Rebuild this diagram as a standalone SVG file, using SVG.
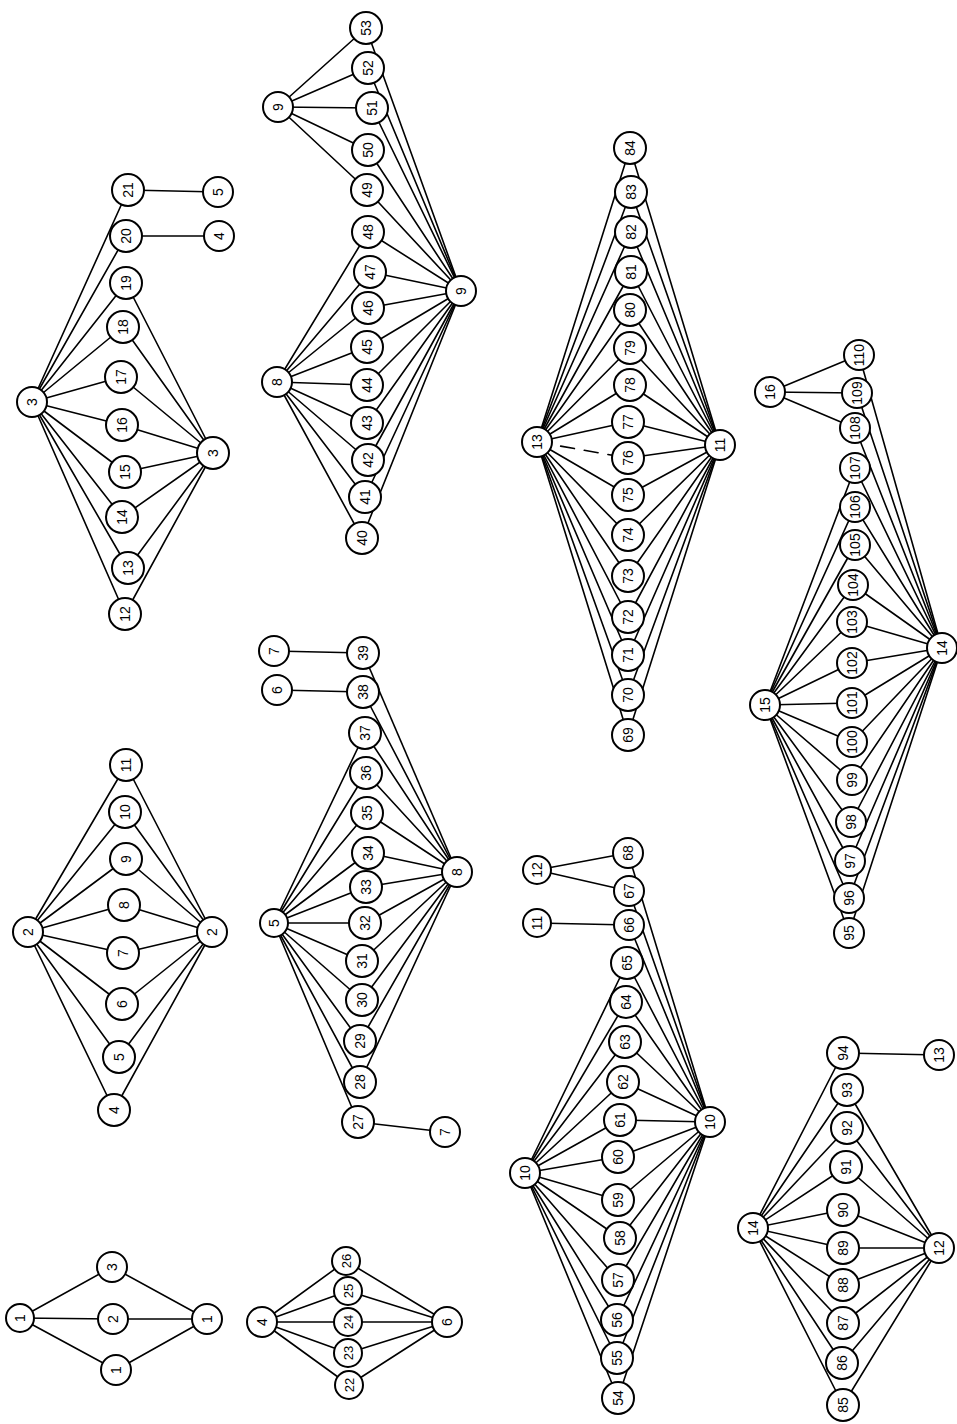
<svg xmlns="http://www.w3.org/2000/svg" width="957" height="1424" viewBox="0 0 957 1424">
<style>
.e{stroke:#000;stroke-width:1.6;fill:none;stroke-linecap:round}
.d{stroke-dasharray:14 10}
circle{fill:#fff;stroke:#000;stroke-width:2}
text{font-family:"Liberation Sans",Arial,sans-serif;font-size:14px;text-anchor:middle;dominant-baseline:central;fill:#000}
.sm{font-size:13px}
</style>
<rect width="957" height="1424" fill="#fff"/>
<g id="connectors">
<!-- A -->
<line class="e" x1="20" y1="1318" x2="112" y2="1267"/><line class="e" x1="20" y1="1318" x2="113" y2="1319"/><line class="e" x1="20" y1="1318" x2="116" y2="1370"/>
<line class="e" x1="207" y1="1319" x2="112" y2="1267"/><line class="e" x1="207" y1="1319" x2="113" y2="1319"/><line class="e" x1="207" y1="1319" x2="116" y2="1370"/>
<!-- B -->
<line class="e" x1="262" y1="1322" x2="346" y2="1261"/><line class="e" x1="262" y1="1322" x2="348" y2="1291"/><line class="e" x1="262" y1="1322" x2="348" y2="1322"/><line class="e" x1="262" y1="1322" x2="348" y2="1353"/><line class="e" x1="262" y1="1322" x2="349" y2="1385"/>
<line class="e" x1="447" y1="1322" x2="346" y2="1261"/><line class="e" x1="447" y1="1322" x2="348" y2="1291"/><line class="e" x1="447" y1="1322" x2="348" y2="1322"/><line class="e" x1="447" y1="1322" x2="348" y2="1353"/><line class="e" x1="447" y1="1322" x2="349" y2="1385"/>
<!-- C -->
<line class="e" x1="28" y1="932" x2="114" y2="1110"/><line class="e" x1="28" y1="932" x2="119" y2="1057"/><line class="e" x1="28" y1="932" x2="122" y2="1004"/><line class="e" x1="28" y1="932" x2="123" y2="953"/><line class="e" x1="28" y1="932" x2="124" y2="905"/><line class="e" x1="28" y1="932" x2="126" y2="859"/><line class="e" x1="28" y1="932" x2="125" y2="812"/><line class="e" x1="28" y1="932" x2="126" y2="765"/>
<line class="e" x1="212" y1="932" x2="114" y2="1110"/><line class="e" x1="212" y1="932" x2="119" y2="1057"/><line class="e" x1="212" y1="932" x2="122" y2="1004"/><line class="e" x1="212" y1="932" x2="123" y2="953"/><line class="e" x1="212" y1="932" x2="124" y2="905"/><line class="e" x1="212" y1="932" x2="126" y2="859"/><line class="e" x1="212" y1="932" x2="125" y2="812"/><line class="e" x1="212" y1="932" x2="126" y2="765"/>
<!-- D -->
<line class="e" x1="32" y1="402" x2="125" y2="614"/><line class="e" x1="32" y1="402" x2="128" y2="568"/><line class="e" x1="32" y1="402" x2="122" y2="517"/><line class="e" x1="32" y1="402" x2="125" y2="472"/><line class="e" x1="32" y1="402" x2="122" y2="425"/><line class="e" x1="32" y1="402" x2="121" y2="377"/><line class="e" x1="32" y1="402" x2="123" y2="327"/><line class="e" x1="32" y1="402" x2="126" y2="283"/><line class="e" x1="32" y1="402" x2="126" y2="236"/><line class="e" x1="32" y1="402" x2="128" y2="190"/>
<line class="e" x1="213" y1="453" x2="125" y2="614"/><line class="e" x1="213" y1="453" x2="128" y2="568"/><line class="e" x1="213" y1="453" x2="122" y2="517"/><line class="e" x1="213" y1="453" x2="125" y2="472"/><line class="e" x1="213" y1="453" x2="122" y2="425"/><line class="e" x1="213" y1="453" x2="121" y2="377"/><line class="e" x1="213" y1="453" x2="123" y2="327"/><line class="e" x1="213" y1="453" x2="126" y2="283"/>
<line class="e" x1="126" y1="236" x2="219" y2="236"/><line class="e" x1="128" y1="190" x2="218" y2="192"/>
<!-- E -->
<line class="e" x1="274" y1="923" x2="358" y2="1122"/><line class="e" x1="274" y1="923" x2="360" y2="1082"/><line class="e" x1="274" y1="923" x2="360" y2="1041"/><line class="e" x1="274" y1="923" x2="362" y2="1000"/><line class="e" x1="274" y1="923" x2="362" y2="961"/><line class="e" x1="274" y1="923" x2="365" y2="923"/><line class="e" x1="274" y1="923" x2="366" y2="887"/><line class="e" x1="274" y1="923" x2="368" y2="853"/><line class="e" x1="274" y1="923" x2="367" y2="813"/><line class="e" x1="274" y1="923" x2="366" y2="773"/><line class="e" x1="274" y1="923" x2="365" y2="733"/>
<line class="e" x1="457" y1="872" x2="360" y2="1082"/><line class="e" x1="457" y1="872" x2="360" y2="1041"/><line class="e" x1="457" y1="872" x2="362" y2="1000"/><line class="e" x1="457" y1="872" x2="362" y2="961"/><line class="e" x1="457" y1="872" x2="365" y2="923"/><line class="e" x1="457" y1="872" x2="366" y2="887"/><line class="e" x1="457" y1="872" x2="368" y2="853"/><line class="e" x1="457" y1="872" x2="367" y2="813"/><line class="e" x1="457" y1="872" x2="366" y2="773"/><line class="e" x1="457" y1="872" x2="365" y2="733"/><line class="e" x1="457" y1="872" x2="363" y2="692"/><line class="e" x1="457" y1="872" x2="363" y2="653"/>
<line class="e" x1="363" y1="692" x2="277" y2="690"/><line class="e" x1="363" y1="653" x2="274" y2="651"/><line class="e" x1="358" y1="1122" x2="445" y2="1132"/>
<!-- F -->
<line class="e" x1="277" y1="382" x2="362" y2="538"/><line class="e" x1="277" y1="382" x2="365" y2="497"/><line class="e" x1="277" y1="382" x2="368" y2="460"/><line class="e" x1="277" y1="382" x2="367" y2="423"/><line class="e" x1="277" y1="382" x2="367" y2="385"/><line class="e" x1="277" y1="382" x2="367" y2="347"/><line class="e" x1="277" y1="382" x2="368" y2="308"/><line class="e" x1="277" y1="382" x2="370" y2="272"/><line class="e" x1="277" y1="382" x2="368" y2="232"/>
<line class="e" x1="461" y1="291" x2="362" y2="538"/><line class="e" x1="461" y1="291" x2="365" y2="497"/><line class="e" x1="461" y1="291" x2="368" y2="460"/><line class="e" x1="461" y1="291" x2="367" y2="423"/><line class="e" x1="461" y1="291" x2="367" y2="385"/><line class="e" x1="461" y1="291" x2="367" y2="347"/><line class="e" x1="461" y1="291" x2="368" y2="308"/><line class="e" x1="461" y1="291" x2="370" y2="272"/><line class="e" x1="461" y1="291" x2="368" y2="232"/><line class="e" x1="461" y1="291" x2="367" y2="190"/><line class="e" x1="461" y1="291" x2="368" y2="150"/><line class="e" x1="461" y1="291" x2="372" y2="108"/><line class="e" x1="461" y1="291" x2="368" y2="68"/><line class="e" x1="461" y1="291" x2="366" y2="28"/>
<line class="e" x1="278" y1="107" x2="367" y2="190"/><line class="e" x1="278" y1="107" x2="368" y2="150"/><line class="e" x1="278" y1="107" x2="372" y2="108"/><line class="e" x1="278" y1="107" x2="368" y2="68"/><line class="e" x1="278" y1="107" x2="366" y2="28"/>
<!-- G -->
<line class="e" x1="537" y1="442" x2="628" y2="735"/><line class="e" x1="537" y1="442" x2="628" y2="695"/><line class="e" x1="537" y1="442" x2="628" y2="655"/><line class="e" x1="537" y1="442" x2="628" y2="617"/><line class="e" x1="537" y1="442" x2="628" y2="576"/><line class="e" x1="537" y1="442" x2="628" y2="535"/><line class="e" x1="537" y1="442" x2="628" y2="495"/><line class="e d" x1="537" y1="442" x2="628" y2="458"/><line class="e" x1="537" y1="442" x2="628" y2="422"/><line class="e" x1="537" y1="442" x2="630" y2="385"/><line class="e" x1="537" y1="442" x2="630" y2="348"/><line class="e" x1="537" y1="442" x2="630" y2="310"/><line class="e" x1="537" y1="442" x2="631" y2="272"/><line class="e" x1="537" y1="442" x2="631" y2="232"/><line class="e" x1="537" y1="442" x2="631" y2="192"/><line class="e" x1="537" y1="442" x2="630" y2="148"/>
<line class="e" x1="720" y1="445" x2="628" y2="735"/><line class="e" x1="720" y1="445" x2="628" y2="695"/><line class="e" x1="720" y1="445" x2="628" y2="655"/><line class="e" x1="720" y1="445" x2="628" y2="617"/><line class="e" x1="720" y1="445" x2="628" y2="576"/><line class="e" x1="720" y1="445" x2="628" y2="535"/><line class="e" x1="720" y1="445" x2="628" y2="495"/><line class="e" x1="720" y1="445" x2="628" y2="458"/><line class="e" x1="720" y1="445" x2="628" y2="422"/><line class="e" x1="720" y1="445" x2="630" y2="385"/><line class="e" x1="720" y1="445" x2="630" y2="348"/><line class="e" x1="720" y1="445" x2="630" y2="310"/><line class="e" x1="720" y1="445" x2="631" y2="272"/><line class="e" x1="720" y1="445" x2="631" y2="232"/><line class="e" x1="720" y1="445" x2="631" y2="192"/><line class="e" x1="720" y1="445" x2="630" y2="148"/>
<!-- H -->
<line class="e" x1="525" y1="1173" x2="618" y2="1398"/><line class="e" x1="525" y1="1173" x2="617" y2="1358"/><line class="e" x1="525" y1="1173" x2="617" y2="1320"/><line class="e" x1="525" y1="1173" x2="618" y2="1280"/><line class="e" x1="525" y1="1173" x2="620" y2="1238"/><line class="e" x1="525" y1="1173" x2="618" y2="1200"/><line class="e" x1="525" y1="1173" x2="618" y2="1157"/><line class="e" x1="525" y1="1173" x2="620" y2="1120"/><line class="e" x1="525" y1="1173" x2="623" y2="1082"/><line class="e" x1="525" y1="1173" x2="625" y2="1042"/><line class="e" x1="525" y1="1173" x2="626" y2="1002"/><line class="e" x1="525" y1="1173" x2="627" y2="963"/>
<line class="e" x1="710" y1="1122" x2="618" y2="1398"/><line class="e" x1="710" y1="1122" x2="617" y2="1358"/><line class="e" x1="710" y1="1122" x2="617" y2="1320"/><line class="e" x1="710" y1="1122" x2="618" y2="1280"/><line class="e" x1="710" y1="1122" x2="620" y2="1238"/><line class="e" x1="710" y1="1122" x2="618" y2="1200"/><line class="e" x1="710" y1="1122" x2="618" y2="1157"/><line class="e" x1="710" y1="1122" x2="620" y2="1120"/><line class="e" x1="710" y1="1122" x2="623" y2="1082"/><line class="e" x1="710" y1="1122" x2="625" y2="1042"/><line class="e" x1="710" y1="1122" x2="626" y2="1002"/><line class="e" x1="710" y1="1122" x2="627" y2="963"/><line class="e" x1="710" y1="1122" x2="629" y2="925"/><line class="e" x1="710" y1="1122" x2="629" y2="891"/><line class="e" x1="710" y1="1122" x2="628" y2="853"/>
<line class="e" x1="537" y1="923" x2="629" y2="925"/><line class="e" x1="537" y1="870" x2="628" y2="853"/><line class="e" x1="537" y1="870" x2="629" y2="891"/>
<!-- I -->
<line class="e" x1="753" y1="1228" x2="843" y2="1405"/><line class="e" x1="753" y1="1228" x2="842" y2="1363"/><line class="e" x1="753" y1="1228" x2="843" y2="1323"/><line class="e" x1="753" y1="1228" x2="843" y2="1285"/><line class="e" x1="753" y1="1228" x2="843" y2="1248"/><line class="e" x1="753" y1="1228" x2="843" y2="1210"/><line class="e" x1="753" y1="1228" x2="846" y2="1167"/><line class="e" x1="753" y1="1228" x2="847" y2="1128"/><line class="e" x1="753" y1="1228" x2="847" y2="1090"/><line class="e" x1="753" y1="1228" x2="843" y2="1053"/>
<line class="e" x1="939" y1="1248" x2="843" y2="1405"/><line class="e" x1="939" y1="1248" x2="842" y2="1363"/><line class="e" x1="939" y1="1248" x2="843" y2="1323"/><line class="e" x1="939" y1="1248" x2="843" y2="1285"/><line class="e" x1="939" y1="1248" x2="843" y2="1248"/><line class="e" x1="939" y1="1248" x2="843" y2="1210"/><line class="e" x1="939" y1="1248" x2="846" y2="1167"/><line class="e" x1="939" y1="1248" x2="847" y2="1128"/><line class="e" x1="939" y1="1248" x2="847" y2="1090"/>
<line class="e" x1="843" y1="1053" x2="939" y2="1055"/>
<!-- J -->
<line class="e" x1="765" y1="705" x2="849" y2="933"/><line class="e" x1="765" y1="705" x2="849" y2="898"/><line class="e" x1="765" y1="705" x2="850" y2="861"/><line class="e" x1="765" y1="705" x2="851" y2="822"/><line class="e" x1="765" y1="705" x2="852" y2="780"/><line class="e" x1="765" y1="705" x2="852" y2="742"/><line class="e" x1="765" y1="705" x2="852" y2="703"/><line class="e" x1="765" y1="705" x2="852" y2="663"/><line class="e" x1="765" y1="705" x2="852" y2="622"/><line class="e" x1="765" y1="705" x2="853" y2="585"/><line class="e" x1="765" y1="705" x2="855" y2="545"/><line class="e" x1="765" y1="705" x2="855" y2="507"/><line class="e" x1="765" y1="705" x2="855" y2="468"/>
<line class="e" x1="942" y1="648" x2="849" y2="933"/><line class="e" x1="942" y1="648" x2="849" y2="898"/><line class="e" x1="942" y1="648" x2="850" y2="861"/><line class="e" x1="942" y1="648" x2="851" y2="822"/><line class="e" x1="942" y1="648" x2="852" y2="780"/><line class="e" x1="942" y1="648" x2="852" y2="742"/><line class="e" x1="942" y1="648" x2="852" y2="703"/><line class="e" x1="942" y1="648" x2="852" y2="663"/><line class="e" x1="942" y1="648" x2="852" y2="622"/><line class="e" x1="942" y1="648" x2="853" y2="585"/><line class="e" x1="942" y1="648" x2="855" y2="545"/><line class="e" x1="942" y1="648" x2="855" y2="507"/><line class="e" x1="942" y1="648" x2="855" y2="468"/><line class="e" x1="942" y1="648" x2="855" y2="428"/><line class="e" x1="942" y1="648" x2="857" y2="393"/><line class="e" x1="942" y1="648" x2="859" y2="355"/>
<line class="e" x1="770" y1="392" x2="855" y2="428"/><line class="e" x1="770" y1="392" x2="857" y2="393"/><line class="e" x1="770" y1="392" x2="859" y2="355"/>
</g>
<!-- Nodes: group A -->
<g id="a_h1L"><circle cx="20" cy="1318" r="14"/><text x="20" y="1318" transform="rotate(-90 20 1318)">1</text></g>
<g id="a_n3"><circle cx="112" cy="1267" r="15"/><text x="112" y="1267" transform="rotate(-90 112 1267)">3</text></g>
<g id="a_n2"><circle cx="113" cy="1319" r="15"/><text x="113" y="1319" transform="rotate(-90 113 1319)">2</text></g>
<g id="a_n1"><circle cx="116" cy="1370" r="15"/><text x="116" y="1370" transform="rotate(-90 116 1370)">1</text></g>
<g id="a_h1R"><circle cx="207" cy="1319" r="15"/><text x="207" y="1319" transform="rotate(-90 207 1319)">1</text></g>
<!-- group B -->
<g id="b_h4"><circle cx="262" cy="1322" r="15"/><text x="262" y="1322" transform="rotate(-90 262 1322)">4</text></g>
<g id="n26"><circle cx="346" cy="1261" r="14"/><text class="sm" x="346" y="1261" transform="rotate(-90 346 1261)">26</text></g>
<g id="n25"><circle cx="348" cy="1291" r="14"/><text class="sm" x="348" y="1291" transform="rotate(-90 348 1291)">25</text></g>
<g id="n24"><circle cx="348" cy="1322" r="14"/><text class="sm" x="348" y="1322" transform="rotate(-90 348 1322)">24</text></g>
<g id="n23"><circle cx="348" cy="1353" r="14"/><text class="sm" x="348" y="1353" transform="rotate(-90 348 1353)">23</text></g>
<g id="n22"><circle cx="349" cy="1385" r="14"/><text class="sm" x="349" y="1385" transform="rotate(-90 349 1385)">22</text></g>
<g id="b_h6"><circle cx="447" cy="1322" r="15"/><text x="447" y="1322" transform="rotate(-90 447 1322)">6</text></g>
<!-- group C -->
<g id="c_h2L"><circle cx="28" cy="932" r="15"/><text x="28" y="932" transform="rotate(-90 28 932)">2</text></g>
<g id="n4"><circle cx="114" cy="1110" r="16"/><text x="114" y="1110" transform="rotate(-90 114 1110)">4</text></g>
<g id="n5"><circle cx="119" cy="1057" r="16"/><text x="119" y="1057" transform="rotate(-90 119 1057)">5</text></g>
<g id="n6"><circle cx="122" cy="1004" r="16"/><text x="122" y="1004" transform="rotate(-90 122 1004)">6</text></g>
<g id="n7"><circle cx="123" cy="953" r="16"/><text x="123" y="953" transform="rotate(-90 123 953)">7</text></g>
<g id="n8"><circle cx="124" cy="905" r="16"/><text x="124" y="905" transform="rotate(-90 124 905)">8</text></g>
<g id="n9"><circle cx="126" cy="859" r="16"/><text x="126" y="859" transform="rotate(-90 126 859)">9</text></g>
<g id="n10"><circle cx="125" cy="812" r="16"/><text x="125" y="812" transform="rotate(-90 125 812)">10</text></g>
<g id="n11"><circle cx="126" cy="765" r="16"/><text x="126" y="765" transform="rotate(-90 126 765)">11</text></g>
<g id="c_h2R"><circle cx="212" cy="932" r="15"/><text x="212" y="932" transform="rotate(-90 212 932)">2</text></g>
<!-- group D -->
<g id="d_h3L"><circle cx="32" cy="402" r="15"/><text x="32" y="402" transform="rotate(-90 32 402)">3</text></g>
<g id="n12"><circle cx="125" cy="614" r="16"/><text x="125" y="614" transform="rotate(-90 125 614)">12</text></g>
<g id="n13"><circle cx="128" cy="568" r="16"/><text x="128" y="568" transform="rotate(-90 128 568)">13</text></g>
<g id="n14"><circle cx="122" cy="517" r="16"/><text x="122" y="517" transform="rotate(-90 122 517)">14</text></g>
<g id="n15"><circle cx="125" cy="472" r="16"/><text x="125" y="472" transform="rotate(-90 125 472)">15</text></g>
<g id="n16"><circle cx="122" cy="425" r="16"/><text x="122" y="425" transform="rotate(-90 122 425)">16</text></g>
<g id="n17"><circle cx="121" cy="377" r="16"/><text x="121" y="377" transform="rotate(-90 121 377)">17</text></g>
<g id="n18"><circle cx="123" cy="327" r="16"/><text x="123" y="327" transform="rotate(-90 123 327)">18</text></g>
<g id="n19"><circle cx="126" cy="283" r="16"/><text x="126" y="283" transform="rotate(-90 126 283)">19</text></g>
<g id="n20"><circle cx="126" cy="236" r="16"/><text x="126" y="236" transform="rotate(-90 126 236)">20</text></g>
<g id="n21"><circle cx="128" cy="190" r="16"/><text x="128" y="190" transform="rotate(-90 128 190)">21</text></g>
<g id="d_h3R"><circle cx="213" cy="453" r="16"/><text x="213" y="453" transform="rotate(-90 213 453)">3</text></g>
<g id="d_x4"><circle cx="219" cy="236" r="15"/><text x="219" y="236" transform="rotate(-90 219 236)">4</text></g>
<g id="d_x5"><circle cx="218" cy="192" r="15"/><text x="218" y="192" transform="rotate(-90 218 192)">5</text></g>
<!-- group E -->
<g id="e_h5"><circle cx="274" cy="923" r="14"/><text x="274" y="923" transform="rotate(-90 274 923)">5</text></g>
<g id="n27"><circle cx="358" cy="1122" r="16"/><text x="358" y="1122" transform="rotate(-90 358 1122)">27</text></g>
<g id="n28"><circle cx="360" cy="1082" r="16"/><text x="360" y="1082" transform="rotate(-90 360 1082)">28</text></g>
<g id="n29"><circle cx="360" cy="1041" r="16"/><text x="360" y="1041" transform="rotate(-90 360 1041)">29</text></g>
<g id="n30"><circle cx="362" cy="1000" r="16"/><text x="362" y="1000" transform="rotate(-90 362 1000)">30</text></g>
<g id="n31"><circle cx="362" cy="961" r="16"/><text x="362" y="961" transform="rotate(-90 362 961)">31</text></g>
<g id="n32"><circle cx="365" cy="923" r="16"/><text x="365" y="923" transform="rotate(-90 365 923)">32</text></g>
<g id="n33"><circle cx="366" cy="887" r="16"/><text x="366" y="887" transform="rotate(-90 366 887)">33</text></g>
<g id="n34"><circle cx="368" cy="853" r="16"/><text x="368" y="853" transform="rotate(-90 368 853)">34</text></g>
<g id="n35"><circle cx="367" cy="813" r="16"/><text x="367" y="813" transform="rotate(-90 367 813)">35</text></g>
<g id="n36"><circle cx="366" cy="773" r="16"/><text x="366" y="773" transform="rotate(-90 366 773)">36</text></g>
<g id="n37"><circle cx="365" cy="733" r="16"/><text x="365" y="733" transform="rotate(-90 365 733)">37</text></g>
<g id="n38"><circle cx="363" cy="692" r="16"/><text x="363" y="692" transform="rotate(-90 363 692)">38</text></g>
<g id="n39"><circle cx="363" cy="653" r="16"/><text x="363" y="653" transform="rotate(-90 363 653)">39</text></g>
<g id="e_h8"><circle cx="457" cy="872" r="15"/><text x="457" y="872" transform="rotate(-90 457 872)">8</text></g>
<g id="e_x6"><circle cx="277" cy="690" r="15"/><text x="277" y="690" transform="rotate(-90 277 690)">6</text></g>
<g id="e_x7a"><circle cx="274" cy="651" r="15"/><text x="274" y="651" transform="rotate(-90 274 651)">7</text></g>
<g id="e_x7b"><circle cx="445" cy="1132" r="15"/><text x="445" y="1132" transform="rotate(-90 445 1132)">7</text></g>
<!-- group F -->
<g id="f_h8"><circle cx="277" cy="382" r="15"/><text x="277" y="382" transform="rotate(-90 277 382)">8</text></g>
<g id="n40"><circle cx="362" cy="538" r="16"/><text x="362" y="538" transform="rotate(-90 362 538)">40</text></g>
<g id="n41"><circle cx="365" cy="497" r="16"/><text x="365" y="497" transform="rotate(-90 365 497)">41</text></g>
<g id="n42"><circle cx="368" cy="460" r="16"/><text x="368" y="460" transform="rotate(-90 368 460)">42</text></g>
<g id="n43"><circle cx="367" cy="423" r="16"/><text x="367" y="423" transform="rotate(-90 367 423)">43</text></g>
<g id="n44"><circle cx="367" cy="385" r="16"/><text x="367" y="385" transform="rotate(-90 367 385)">44</text></g>
<g id="n45"><circle cx="367" cy="347" r="16"/><text x="367" y="347" transform="rotate(-90 367 347)">45</text></g>
<g id="n46"><circle cx="368" cy="308" r="16"/><text x="368" y="308" transform="rotate(-90 368 308)">46</text></g>
<g id="n47"><circle cx="370" cy="272" r="16"/><text x="370" y="272" transform="rotate(-90 370 272)">47</text></g>
<g id="n48"><circle cx="368" cy="232" r="16"/><text x="368" y="232" transform="rotate(-90 368 232)">48</text></g>
<g id="n49"><circle cx="367" cy="190" r="16"/><text x="367" y="190" transform="rotate(-90 367 190)">49</text></g>
<g id="n50"><circle cx="368" cy="150" r="16"/><text x="368" y="150" transform="rotate(-90 368 150)">50</text></g>
<g id="n51"><circle cx="372" cy="108" r="16"/><text x="372" y="108" transform="rotate(-90 372 108)">51</text></g>
<g id="n52"><circle cx="368" cy="68" r="16"/><text x="368" y="68" transform="rotate(-90 368 68)">52</text></g>
<g id="n53"><circle cx="366" cy="28" r="16"/><text x="366" y="28" transform="rotate(-90 366 28)">53</text></g>
<g id="f_h9R"><circle cx="461" cy="291" r="15"/><text x="461" y="291" transform="rotate(-90 461 291)">9</text></g>
<g id="f_h9T"><circle cx="278" cy="107" r="15"/><text x="278" y="107" transform="rotate(-90 278 107)">9</text></g>
<!-- group G -->
<g id="g_h13"><circle cx="537" cy="442" r="15"/><text x="537" y="442" transform="rotate(-90 537 442)">13</text></g>
<g id="n69"><circle cx="628" cy="735" r="16"/><text x="628" y="735" transform="rotate(-90 628 735)">69</text></g>
<g id="n70"><circle cx="628" cy="695" r="16"/><text x="628" y="695" transform="rotate(-90 628 695)">70</text></g>
<g id="n71"><circle cx="628" cy="655" r="16"/><text x="628" y="655" transform="rotate(-90 628 655)">71</text></g>
<g id="n72"><circle cx="628" cy="617" r="16"/><text x="628" y="617" transform="rotate(-90 628 617)">72</text></g>
<g id="n73"><circle cx="628" cy="576" r="16"/><text x="628" y="576" transform="rotate(-90 628 576)">73</text></g>
<g id="n74"><circle cx="628" cy="535" r="16"/><text x="628" y="535" transform="rotate(-90 628 535)">74</text></g>
<g id="n75"><circle cx="628" cy="495" r="16"/><text x="628" y="495" transform="rotate(-90 628 495)">75</text></g>
<g id="n76"><circle cx="628" cy="458" r="16"/><text x="628" y="458" transform="rotate(-90 628 458)">76</text></g>
<g id="n77"><circle cx="628" cy="422" r="16"/><text x="628" y="422" transform="rotate(-90 628 422)">77</text></g>
<g id="n78"><circle cx="630" cy="385" r="16"/><text x="630" y="385" transform="rotate(-90 630 385)">78</text></g>
<g id="n79"><circle cx="630" cy="348" r="16"/><text x="630" y="348" transform="rotate(-90 630 348)">79</text></g>
<g id="n80"><circle cx="630" cy="310" r="16"/><text x="630" y="310" transform="rotate(-90 630 310)">80</text></g>
<g id="n81"><circle cx="631" cy="272" r="16"/><text x="631" y="272" transform="rotate(-90 631 272)">81</text></g>
<g id="n82"><circle cx="631" cy="232" r="16"/><text x="631" y="232" transform="rotate(-90 631 232)">82</text></g>
<g id="n83"><circle cx="631" cy="192" r="16"/><text x="631" y="192" transform="rotate(-90 631 192)">83</text></g>
<g id="n84"><circle cx="630" cy="148" r="16"/><text x="630" y="148" transform="rotate(-90 630 148)">84</text></g>
<g id="g_h11"><circle cx="720" cy="445" r="15"/><text x="720" y="445" transform="rotate(-90 720 445)">11</text></g>
<!-- group H -->
<g id="h_h10L"><circle cx="525" cy="1173" r="15"/><text x="525" y="1173" transform="rotate(-90 525 1173)">10</text></g>
<g id="n54"><circle cx="618" cy="1398" r="16"/><text x="618" y="1398" transform="rotate(-90 618 1398)">54</text></g>
<g id="n55"><circle cx="617" cy="1358" r="16"/><text x="617" y="1358" transform="rotate(-90 617 1358)">55</text></g>
<g id="n56"><circle cx="617" cy="1320" r="16"/><text x="617" y="1320" transform="rotate(-90 617 1320)">56</text></g>
<g id="n57"><circle cx="618" cy="1280" r="16"/><text x="618" y="1280" transform="rotate(-90 618 1280)">57</text></g>
<g id="n58"><circle cx="620" cy="1238" r="16"/><text x="620" y="1238" transform="rotate(-90 620 1238)">58</text></g>
<g id="n59"><circle cx="618" cy="1200" r="16"/><text x="618" y="1200" transform="rotate(-90 618 1200)">59</text></g>
<g id="n60"><circle cx="618" cy="1157" r="16"/><text x="618" y="1157" transform="rotate(-90 618 1157)">60</text></g>
<g id="n61"><circle cx="620" cy="1120" r="16"/><text x="620" y="1120" transform="rotate(-90 620 1120)">61</text></g>
<g id="n62"><circle cx="623" cy="1082" r="16"/><text x="623" y="1082" transform="rotate(-90 623 1082)">62</text></g>
<g id="n63"><circle cx="625" cy="1042" r="16"/><text x="625" y="1042" transform="rotate(-90 625 1042)">63</text></g>
<g id="n64"><circle cx="626" cy="1002" r="16"/><text x="626" y="1002" transform="rotate(-90 626 1002)">64</text></g>
<g id="n65"><circle cx="627" cy="963" r="16"/><text x="627" y="963" transform="rotate(-90 627 963)">65</text></g>
<g id="n66"><circle cx="629" cy="925" r="15"/><text x="629" y="925" transform="rotate(-90 629 925)">66</text></g>
<g id="n67"><circle cx="629" cy="891" r="15"/><text x="629" y="891" transform="rotate(-90 629 891)">67</text></g>
<g id="n68"><circle cx="628" cy="853" r="15"/><text x="628" y="853" transform="rotate(-90 628 853)">68</text></g>
<g id="h_h10R"><circle cx="710" cy="1122" r="15"/><text x="710" y="1122" transform="rotate(-90 710 1122)">10</text></g>
<g id="h_x11"><circle cx="537" cy="923" r="14"/><text x="537" y="923" transform="rotate(-90 537 923)">11</text></g>
<g id="h_x12"><circle cx="537" cy="870" r="14"/><text x="537" y="870" transform="rotate(-90 537 870)">12</text></g>
<!-- group I -->
<g id="i_h14"><circle cx="753" cy="1228" r="15"/><text x="753" y="1228" transform="rotate(-90 753 1228)">14</text></g>
<g id="n85"><circle cx="843" cy="1405" r="16"/><text x="843" y="1405" transform="rotate(-90 843 1405)">85</text></g>
<g id="n86"><circle cx="842" cy="1363" r="16"/><text x="842" y="1363" transform="rotate(-90 842 1363)">86</text></g>
<g id="n87"><circle cx="843" cy="1323" r="16"/><text x="843" y="1323" transform="rotate(-90 843 1323)">87</text></g>
<g id="n88"><circle cx="843" cy="1285" r="16"/><text x="843" y="1285" transform="rotate(-90 843 1285)">88</text></g>
<g id="n89"><circle cx="843" cy="1248" r="16"/><text x="843" y="1248" transform="rotate(-90 843 1248)">89</text></g>
<g id="n90"><circle cx="843" cy="1210" r="16"/><text x="843" y="1210" transform="rotate(-90 843 1210)">90</text></g>
<g id="n91"><circle cx="846" cy="1167" r="16"/><text x="846" y="1167" transform="rotate(-90 846 1167)">91</text></g>
<g id="n92"><circle cx="847" cy="1128" r="16"/><text x="847" y="1128" transform="rotate(-90 847 1128)">92</text></g>
<g id="n93"><circle cx="847" cy="1090" r="16"/><text x="847" y="1090" transform="rotate(-90 847 1090)">93</text></g>
<g id="n94"><circle cx="843" cy="1053" r="16"/><text x="843" y="1053" transform="rotate(-90 843 1053)">94</text></g>
<g id="i_h12"><circle cx="939" cy="1248" r="15"/><text x="939" y="1248" transform="rotate(-90 939 1248)">12</text></g>
<g id="i_x13"><circle cx="939" cy="1055" r="15"/><text x="939" y="1055" transform="rotate(-90 939 1055)">13</text></g>
<!-- group J -->
<g id="j_h15"><circle cx="765" cy="705" r="15"/><text x="765" y="705" transform="rotate(-90 765 705)">15</text></g>
<g id="n95"><circle cx="849" cy="933" r="15"/><text x="849" y="933" transform="rotate(-90 849 933)">95</text></g>
<g id="n96"><circle cx="849" cy="898" r="15"/><text x="849" y="898" transform="rotate(-90 849 898)">96</text></g>
<g id="n97"><circle cx="850" cy="861" r="15"/><text x="850" y="861" transform="rotate(-90 850 861)">97</text></g>
<g id="n98"><circle cx="851" cy="822" r="15"/><text x="851" y="822" transform="rotate(-90 851 822)">98</text></g>
<g id="n99"><circle cx="852" cy="780" r="15"/><text x="852" y="780" transform="rotate(-90 852 780)">99</text></g>
<g id="n100"><circle cx="852" cy="742" r="15"/><text x="852" y="742" transform="rotate(-90 852 742)">100</text></g>
<g id="n101"><circle cx="852" cy="703" r="15"/><text x="852" y="703" transform="rotate(-90 852 703)">101</text></g>
<g id="n102"><circle cx="852" cy="663" r="15"/><text x="852" y="663" transform="rotate(-90 852 663)">102</text></g>
<g id="n103"><circle cx="852" cy="622" r="15"/><text x="852" y="622" transform="rotate(-90 852 622)">103</text></g>
<g id="n104"><circle cx="853" cy="585" r="15"/><text x="853" y="585" transform="rotate(-90 853 585)">104</text></g>
<g id="n105"><circle cx="855" cy="545" r="15"/><text x="855" y="545" transform="rotate(-90 855 545)">105</text></g>
<g id="n106"><circle cx="855" cy="507" r="15"/><text x="855" y="507" transform="rotate(-90 855 507)">106</text></g>
<g id="n107"><circle cx="855" cy="468" r="15"/><text x="855" y="468" transform="rotate(-90 855 468)">107</text></g>
<g id="n108"><circle cx="855" cy="428" r="15"/><text x="855" y="428" transform="rotate(-90 855 428)">108</text></g>
<g id="n109"><circle cx="857" cy="393" r="15"/><text x="857" y="393" transform="rotate(-90 857 393)">109</text></g>
<g id="n110"><circle cx="859" cy="355" r="15"/><text x="859" y="355" transform="rotate(-90 859 355)">110</text></g>
<g id="j_h14"><circle cx="942" cy="648" r="15"/><text x="942" y="648" transform="rotate(-90 942 648)">14</text></g>
<g id="j_h16"><circle cx="770" cy="392" r="15"/><text x="770" y="392" transform="rotate(-90 770 392)">16</text></g>
</svg>
